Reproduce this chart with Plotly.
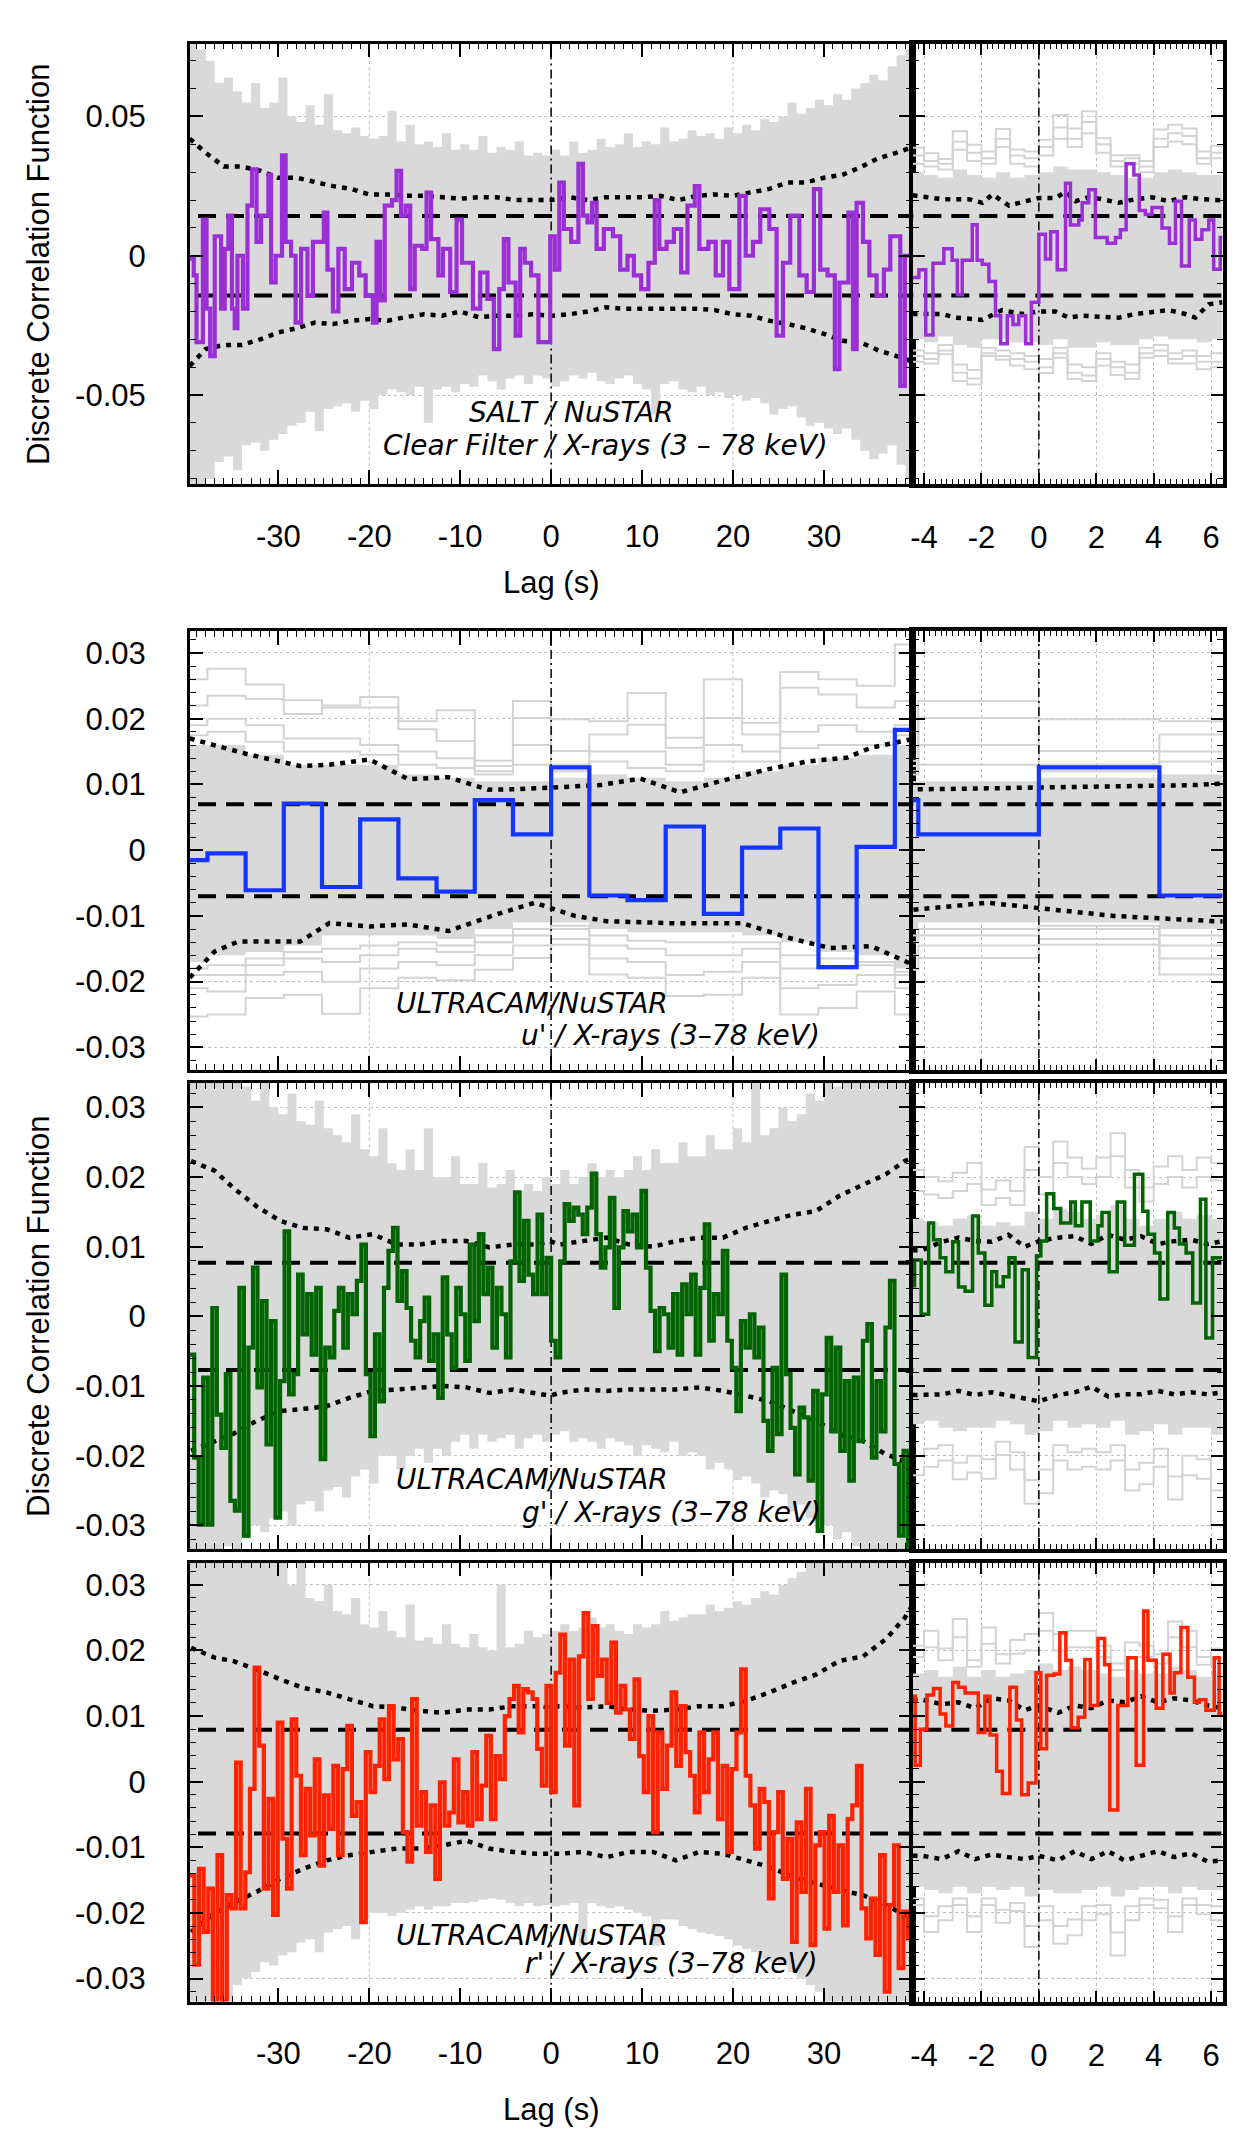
import plotly.graph_objects as go

W, H = 1250, 2137

PURPLE = '#9a2fd6'
BLUE = '#1436ff'
GREEN = '#006400'
RED = '#ff2200'
GREY = '#d9d9d9'
GREY_LINE = '#d3d3d3'
GRID = '#bdbdbd'

DASHED = '18px,10px'
DOTTED = '5px,6px'
DASHDOT = '9px,4px,2px,4px'

# ---------------- tick labels ----------------
X_MAIN_TICKS = [-30, -20, -10, 0, 10, 20, 30]
X_MAIN_TEXT = ['-30', '-20', '-10', '0', '10', '20', '30']
X_INSET_TICKS = [-4, -2, 0, 2, 4, 6]
X_INSET_TEXT = ['-4', '-2', '0', '2', '4', '6']
Y1_TICKS = [-0.05, 0, 0.05]
Y1_TEXT = ['-0.05', '0', '0.05']
Y2_TICKS = [-0.03, -0.02, -0.01, 0, 0.01, 0.02, 0.03]
Y2_TEXT = ['-0.03', '-0.02', '-0.01', '0', '0.01', '0.02', '0.03']

# ---------------- shared lag grids ----------------
ENV_LAG = list(range(-40, 41))
INSET_EDGES = [-4.4, -4.0, -3.5, -3.0, -2.5, -2.0, -1.5, -1.0, -0.5, 0.0, 0.5,
               1.0, 1.5, 2.0, 2.5, 3.0, 3.5, 4.0, 4.5, 5.0, 5.5, 6.0, 6.4]
DOT_LAG = [-39.6, -37.0, -35.0, -32.4, -29.8, -27.3, -24.7, -22.2, -19.6, -17.0,
           -14.5, -11.9, -9.3, -6.8, -4.2, -1.6, -0.1, 0.9, 3.5, 6.1, 8.6, 11.2,
           13.7, 16.3, 18.9, 21.4, 24.0, 26.6, 29.1, 31.7, 34.3, 36.8, 38.9, 39.9]
IN_DOT_LAG = [-4.4, -4.07, -3.38, -2.8, -2.22, -1.64, -1.06, -0.49, 0, 0.67, 1.25,
              1.83, 2.41, 2.99, 3.56, 4.14, 4.72, 5.3, 5.88, 6.4]

# ================= panel 1 : SALT / NuSTAR =================
P1_LAG = [-39.75, -39.3, -39.0, -38.3, -37.9, -37.5, -37.0, -36.3, -35.9, -35.5,
          -35.1, -34.8, -34.5, -33.9, -33.4, -32.9, -32.4, -31.9, -31.1, -30.8,
          -30.3, -29.6, -29.2, -28.6, -28.1, -27.5, -26.8, -26.2, -25.5, -25.0,
          -24.6, -24.0, -23.4, -22.7, -21.9, -21.1, -20.4, -19.6, -19.2, -18.8,
          -18.3, -17.5, -17.0, -16.5, -16.0, -15.5, -15.0, -14.2, -13.7, -13.2,
          -12.4, -11.9, -11.1, -10.4, -9.8, -9.3, -8.6, -7.8, -7.0, -6.3,
          -5.7, -5.2, -4.7, -3.9, -3.4, -2.9, -2.2, -1.4, -0.6, -0.1,
          0.4, 0.9, 1.4, 2.2, 3.0, 3.5, 4.0, 4.5, 5.0, 5.8,
          6.8, 7.6, 8.4, 9.1, 9.9, 10.7, 11.4, 11.9, 12.7, 13.5,
          14.3, 15.0, 15.8, 16.3, 17.3, 18.1, 18.9, 19.6, 20.7, 21.4,
          22.2, 23.0, 24.0, 24.8, 25.5, 26.3, 27.3, 28.1, 28.9, 29.6,
          30.4, 31.2, 31.7, 32.7, 33.2, 33.6, 34.3, 35.0, 35.8, 36.6,
          37.3, 38.4, 38.9, 39.6, 39.75]
P1_VAL = [-0.001, -0.007, -0.031, 0.013, -0.019, -0.036, 0.007, -0.019, 0.0025, 0.0144,
          -0.019, -0.026, 0.0, -0.019, 0.018, 0.031, 0.005, 0.0144, 0.029, -0.0096,
          0.0, 0.036, 0.005, 0.0, -0.024, 0.0025, -0.0144, 0.005, 0.005, 0.0155,
          -0.005, -0.020, 0.0025, -0.012, -0.0025, -0.007, -0.0144, -0.024, 0.005, -0.016,
          0.018, 0.020, 0.0305, 0.0144, 0.018, -0.012, 0.0036, 0.0025, 0.0227, 0.006,
          -0.007, 0.0025, -0.013, 0.013, -0.0025, -0.0025, -0.019, -0.006, -0.0155, -0.0335,
          -0.012, 0.006, -0.0096, -0.0287, 0.0025, -0.0025, -0.007, -0.031, -0.031, 0.007,
          -0.005, 0.0263, 0.0096, 0.005, 0.033, 0.0144, 0.012, 0.019, 0.0025, 0.0096,
          0.007, -0.005, 0.0, -0.007, -0.012, -0.0025, 0.020, 0.0025, 0.005, 0.0096,
          -0.006, 0.018, 0.025, 0.0025, 0.005, -0.007, 0.005, -0.012, 0.0215, 0.0,
          0.005, 0.0167, 0.0096, -0.0287, -0.0025, 0.0144, -0.007, -0.013, 0.0239, -0.005,
          -0.007, -0.0407, -0.0096, 0.0155, -0.0335, 0.019, 0.005, -0.007, -0.0144, -0.005,
          0.007, -0.0467, 0.0, -0.0096, -0.0096]
P1_ENV_UP = [0.076, 0.074, 0.070, 0.062, 0.064, 0.059, 0.055, 0.062, 0.053, 0.055,
             0.064, 0.050, 0.048, 0.054, 0.047, 0.058, 0.045, 0.044, 0.046, 0.043,
             0.042, 0.043, 0.052, 0.041, 0.047, 0.040, 0.041, 0.039, 0.044, 0.038,
             0.040, 0.038, 0.043, 0.037, 0.039, 0.038, 0.041, 0.036, 0.037, 0.036,
             0.038,
             0.036, 0.041, 0.037, 0.038, 0.042, 0.039, 0.040, 0.044, 0.039, 0.041,
             0.040, 0.046, 0.041, 0.042, 0.045, 0.043, 0.044, 0.042, 0.046, 0.044,
             0.047, 0.045, 0.049, 0.048, 0.050, 0.055, 0.051, 0.053, 0.056, 0.054,
             0.058, 0.056, 0.060, 0.062, 0.065, 0.063, 0.068, 0.072, 0.074, 0.076]
P1_ENV_LO = [-0.082, -0.082, -0.080, -0.074, -0.072, -0.077, -0.068, -0.067, -0.070, -0.066,
             -0.064, -0.061, -0.060, -0.056, -0.063, -0.055, -0.054, -0.053, -0.056, -0.052,
             -0.055, -0.050, -0.048, -0.049, -0.050, -0.047, -0.060, -0.048, -0.047, -0.049,
             -0.046, -0.047, -0.043, -0.045, -0.048, -0.044, -0.043, -0.046, -0.043, -0.044,
             -0.047,
             -0.045, -0.043, -0.044, -0.042, -0.045, -0.046, -0.044, -0.043, -0.046, -0.048,
             -0.057, -0.046, -0.045, -0.048, -0.049, -0.047, -0.050, -0.049, -0.051, -0.050,
             -0.052, -0.051, -0.053, -0.057, -0.055, -0.054, -0.058, -0.061, -0.060, -0.062,
             -0.064, -0.062, -0.066, -0.070, -0.073, -0.071, -0.068, -0.075, -0.080, -0.082]
P1_DOT_LAG = [-39.75] + list(range(-38, 39, 2)) + [39.75]
P1_DOT_UP = [0.042, 0.037, 0.032, 0.032, 0.0305, 0.028, 0.028, 0.0263, 0.025, 0.024,
             0.022, 0.022, 0.0215, 0.0215, 0.021, 0.0205, 0.021, 0.021, 0.020, 0.020,
             0.020, 0.021, 0.020, 0.021, 0.021, 0.021, 0.0215, 0.020, 0.0215, 0.022,
             0.0215, 0.0227, 0.024, 0.0263, 0.0263, 0.028, 0.029, 0.0317, 0.035, 0.037, 0.039]
P1_DOT_LO = [-0.0395, -0.0335, -0.032, -0.032, -0.030, -0.0275, -0.026, -0.024, -0.0245, -0.0233,
             -0.0227, -0.0233, -0.022, -0.021, -0.0215, -0.020, -0.022, -0.0215, -0.0215, -0.021,
             -0.0215, -0.021, -0.020, -0.0185, -0.019, -0.019, -0.019, -0.019, -0.019, -0.0195,
             -0.021, -0.0215, -0.0233, -0.0245, -0.026, -0.028, -0.0305, -0.031, -0.034, -0.036, -0.038]
P1_SIG = 0.0143
P1_IN_LAG = [-4.4, -4.18, -3.94, -3.69, -3.31, -3.02, -2.84, -2.67, -2.32, -2.15,
             -1.97, -1.74, -1.51, -1.33, -1.10, -0.90, -0.70, -0.46, -0.26, 0.0,
             0.23, 0.41, 0.64, 0.93, 1.10, 1.39, 1.51, 1.74, 1.97, 2.38,
             2.67, 2.84, 3.04, 3.31, 3.50, 3.71, 3.94, 4.29, 4.55, 4.76,
             4.97, 5.24, 5.45, 5.68, 5.92, 6.09, 6.32, 6.4]
P1_IN_VAL = [-0.0078, -0.005, -0.0284, -0.0027, 0.0025, -0.0016, -0.014, -0.0016, 0.0111, -0.0016,
             -0.003, -0.0092, -0.0215, -0.0316, -0.0215, -0.0247, -0.0215, -0.0316, -0.0167, 0.0077,
             -0.0012, 0.0086, -0.005, 0.026, 0.011, 0.0128, 0.019, 0.0237, 0.0066, 0.0045,
             0.0066, 0.0093, 0.033, 0.029, 0.0162, 0.0148, 0.0173, 0.010, 0.0045, 0.0196,
             -0.0037, 0.0128, 0.0059, 0.0093, 0.0128, -0.0048, 0.0066, 0.0066]
P1_IN_CORE_UP = [0.030, 0.029, 0.028, 0.031, 0.029, 0.028, 0.030, 0.028, 0.029, 0.030, 0.032,
                 0.031, 0.031, 0.030, 0.029, 0.028, 0.028, 0.030, 0.031, 0.030, 0.029, 0.029]
P1_IN_CORE_LO = [-0.030, -0.031, -0.029, -0.032, -0.033, -0.030, -0.030, -0.031, -0.031, -0.032, -0.030,
                 -0.033, -0.033, -0.031, -0.032, -0.032, -0.030, -0.029, -0.030, -0.030, -0.031, -0.030]
P1_IN_UP1 = [0.0388, 0.0368, 0.0347, 0.0447, 0.0398, 0.0374, 0.0455, 0.0381, 0.0374, 0.0416, 0.0505,
             0.0457, 0.0519, 0.0422, 0.0361, 0.0361, 0.034, 0.0453, 0.047, 0.0457, 0.0374, 0.0395]
P1_IN_UP2 = [0.033, 0.032, 0.031, 0.038, 0.034, 0.033, 0.039, 0.033, 0.032, 0.036, 0.042,
             0.039, 0.044, 0.037, 0.032, 0.033, 0.030, 0.039, 0.041, 0.040, 0.033, 0.035]
P1_IN_UP3 = [0.036, 0.034, 0.033, 0.041, 0.037, 0.035, 0.042, 0.036, 0.035, 0.039, 0.046,
             0.042, 0.048, 0.040, 0.034, 0.035, 0.032, 0.042, 0.044, 0.043, 0.035, 0.037]
P1_IN_LO1 = [-0.038, -0.0387, -0.0353, -0.0449, -0.0462, -0.036, -0.0373, -0.0394, -0.0407, -0.0421, -0.0366,
             -0.0442, -0.0449, -0.0394, -0.0428, -0.0442, -0.0366, -0.036, -0.0387, -0.0387, -0.0407, -0.040]
P1_IN_LO2 = [-0.034, -0.035, -0.032, -0.039, -0.041, -0.033, -0.034, -0.035, -0.036, -0.037, -0.033,
             -0.039, -0.040, -0.035, -0.038, -0.039, -0.033, -0.032, -0.035, -0.034, -0.036, -0.035]
P1_IN_LO3 = [-0.036, -0.037, -0.034, -0.042, -0.044, -0.035, -0.036, -0.037, -0.038, -0.040, -0.035,
             -0.042, -0.043, -0.037, -0.040, -0.042, -0.035, -0.034, -0.037, -0.036, -0.038, -0.038]
P1_IN_DOT_UP_LAG = [-4.4, -3.36, -2.44, -1.97, -1.62, -1.04, -0.46, 0, 0.58, 0.93,
                    1.28, 1.74, 2.2, 2.78, 3.36, 3.94, 4.52, 5.1, 5.68, 6.4]
P1_IN_DOT_UP = [0.0217, 0.0203, 0.0203, 0.019, 0.022, 0.018, 0.0196, 0.0207, 0.0207, 0.023,
                0.0196, 0.021, 0.0203, 0.019, 0.0203, 0.021, 0.0196, 0.021, 0.0203, 0.0199]
P1_IN_DOT_LO_LAG = [-4.4, -3.36, -2.9, -1.97, -1.28, -0.58, 0, 0.58, 1.04, 1.51,
                    2.2, 2.78, 3.36, 3.94, 4.52, 5.1, 5.45, 5.92, 6.4]
P1_IN_DOT_LO = [-0.0209, -0.0209, -0.0222, -0.023, -0.0195, -0.0209, -0.020, -0.020, -0.0222, -0.0215,
                -0.0219, -0.0222, -0.0209, -0.0202, -0.0195, -0.0209, -0.0222, -0.0174, -0.0167]

# ================= panel 2 : ULTRACAM u' =================
P2_EDGES = [-39.75, -37.8, -33.6, -29.4, -25.2, -21.0, -16.8, -12.6, -8.4, -4.2, 0.0,
            4.2, 8.4, 12.6, 16.8, 21.0, 25.2, 29.4, 33.6, 37.8, 39.75]
P2_VAL = [-0.0015, -0.0005, -0.0061, 0.0071, -0.0056, 0.0047, -0.0043, -0.0063, 0.0076, 0.0024,
          0.0126, -0.0069, -0.0076, 0.0036, -0.0097, 0.0004, 0.0033, -0.0178, 0.0005, 0.0183]
P2_CORE_UP = [0.016, 0.016, 0.0145, 0.013, 0.013, 0.013, 0.0115, 0.011, 0.0105, 0.0105,
              0.011, 0.0115, 0.011, 0.0105, 0.011, 0.012, 0.013, 0.014, 0.0145, 0.016]
P2_CORE_LO = [-0.017, -0.016, -0.0155, -0.0145, -0.013, -0.013, -0.013, -0.0135, -0.012, -0.011,
              -0.011, -0.012, -0.0125, -0.0125, -0.0125, -0.013, -0.014, -0.0155, -0.016, -0.018]
P2_UP1 = [0.026, 0.0276, 0.0252, 0.0228, 0.022, 0.0233, 0.0196, 0.0213, 0.0136, 0.0227,
          0.0199, 0.0196, 0.0239, 0.0171, 0.026, 0.0194, 0.0271, 0.026, 0.025, 0.0313]
P2_UP2 = [0.022, 0.0235, 0.023, 0.0207, 0.0217, 0.0217, 0.0184, 0.0166, 0.0128, 0.0201,
          0.0151, 0.0176, 0.0191, 0.0156, 0.0201, 0.0176, 0.0247, 0.0237, 0.0217, 0.0227]
P2_UP3 = [0.019, 0.020, 0.019, 0.017, 0.017, 0.016, 0.015, 0.014, 0.012, 0.016,
          0.013, 0.015, 0.015, 0.013, 0.016, 0.015, 0.018, 0.019, 0.018, 0.019]
P2_UP4 = [0.0175, 0.018, 0.0165, 0.015, 0.015, 0.0145, 0.013, 0.0125, 0.0115, 0.013,
          0.012, 0.0135, 0.0125, 0.012, 0.0135, 0.0135, 0.0155, 0.016, 0.016, 0.0175]
P2_LO1 = [-0.0253, -0.025, -0.0225, -0.022, -0.0249, -0.021, -0.0194, -0.0198, -0.0182, -0.0164,
          -0.0144, -0.0189, -0.0194, -0.0222, -0.022, -0.0194, -0.025, -0.024, -0.0215, -0.025]
P2_LO2 = [-0.021, -0.0215, -0.019, -0.0185, -0.020, -0.018, -0.017, -0.0175, -0.016, -0.0145,
          -0.0135, -0.0165, -0.017, -0.019, -0.0185, -0.017, -0.021, -0.0205, -0.019, -0.021]
P2_LO3 = [-0.019, -0.019, -0.0175, -0.0165, -0.017, -0.016, -0.015, -0.0155, -0.014, -0.013,
          -0.012, -0.0145, -0.015, -0.016, -0.016, -0.015, -0.018, -0.018, -0.0175, -0.019]
P2_LO4 = [-0.018, -0.0175, -0.0165, -0.0155, -0.015, -0.0145, -0.014, -0.0145, -0.013, -0.012,
          -0.0115, -0.013, -0.0138, -0.014, -0.014, -0.014, -0.016, -0.0165, -0.017, -0.0185]
P2_DOT_UP_LAG = [-39.75, -33.4, -27.6, -24.4, -20.0, -15.7, -11.3, -6.9, -3.4, 1.0,
                 5.4, 9.8, 14.2, 18.6, 23.8, 28.2, 32.6, 35.2, 39.75]
P2_DOT_UP = [0.0170, 0.0146, 0.0128, 0.0130, 0.0138, 0.0108, 0.0111, 0.0092, 0.0093, 0.0096,
             0.0099, 0.0109, 0.0088, 0.0105, 0.0123, 0.0135, 0.0141, 0.0156, 0.0169]
P2_DOT_LO_LAG = [-39.75, -37.0, -34.4, -27.6, -24.4, -20.0, -15.7, -11.3, -6.1, -1.8,
                 2.6, 6.1, 13.1, 21.0, 26.3, 30.7, 35.2, 39.75]
P2_DOT_LO = [-0.0194, -0.0154, -0.0139, -0.0139, -0.0111, -0.0116, -0.0113, -0.0123, -0.0098, -0.0080,
             -0.0100, -0.0108, -0.0111, -0.0111, -0.0134, -0.0149, -0.0146, -0.0174]
P2_SIG = 0.0070

# ================= panel 3 : ULTRACAM g' =================
P3_VAL = [-0.0055, -0.0203, -0.0299, -0.0088, -0.0299, 0.0012, -0.0141, -0.0189, -0.0083, -0.0265,
          -0.0279, 0.0041, -0.0315, -0.0045, 0.0070, -0.0102, 0.0022, -0.0184, -0.0007, -0.0289,
          -0.0093, 0.0122, -0.0112, -0.0083, 0.0060, -0.0026, 0.0032, -0.0055, 0.0041, -0.0205,
          -0.0045, -0.0059, 0.0008, 0.0041, -0.0045, 0.0032, 0.0003, 0.0051, 0.0103, -0.0083,
          -0.0172, -0.0026, -0.0122, 0.0041, 0.0094, 0.0127, 0.0022, 0.0065, 0.0012, -0.0035,
          -0.0059, -0.0007, 0.0027, -0.0064, -0.0026, -0.0117, 0.0056, -0.0026, -0.0074, 0.0041,
          0.0003, -0.0064, 0.0103, -0.0007, 0.0118, 0.0032, 0.0070, -0.0045, 0.0041, 0.0003,
          -0.0059, 0.0079, 0.0178, 0.0051, 0.0137, 0.0060, 0.0032, 0.0146, 0.0032, 0.0084,
          -0.0035, -0.0059, 0.0079, 0.0161, 0.0137, 0.0156, 0.0146, 0.0118, 0.0156, 0.0205,
          0.0118, 0.0070, 0.0099, 0.0170, 0.0012, 0.0099, 0.0151, 0.0122, 0.0146, 0.0099,
          0.0180, 0.0070, 0.0008, -0.0050, 0.0012, 0.0003, -0.0045, 0.0032, -0.0055, 0.0046,
          0.0003, 0.0060, -0.0055, 0.0041, 0.0132, -0.0035, 0.0032, 0.0003, 0.0094, -0.0035,
          -0.0074, -0.0136, -0.0007, -0.0045, 0.0003, -0.0059, -0.0016, -0.0150, -0.0193, -0.0074,
          -0.0169, 0.0060, -0.0083, -0.0160, -0.0227, -0.0131, -0.0145, -0.0236, -0.0107, -0.0308,
          -0.0112, -0.0031, -0.0165, -0.0045, -0.0193, -0.0093, -0.0236, -0.0088, -0.0179, -0.0035,
          -0.0011, -0.0203, -0.0093, -0.0165, -0.0016, 0.0051, -0.0212, -0.0315, -0.0193, -0.0332,
          -0.0193]
P3_ENV_UP = [0.034, 0.034, 0.034, 0.034, 0.034, 0.034, 0.033, 0.031, 0.034, 0.030,
             0.029, 0.032, 0.028, 0.0275, 0.031, 0.027, 0.026, 0.025, 0.029, 0.024,
             0.023, 0.027, 0.022, 0.021, 0.024, 0.021, 0.027, 0.020, 0.020, 0.023,
             0.019, 0.019, 0.022, 0.0185, 0.019, 0.021, 0.018, 0.019, 0.018, 0.020,
             0.019,
             0.021, 0.019, 0.020, 0.022, 0.020, 0.021, 0.020, 0.021, 0.023, 0.021,
             0.024, 0.022, 0.022, 0.025, 0.023, 0.023, 0.026, 0.024, 0.024, 0.027,
             0.025, 0.034, 0.026, 0.027, 0.030, 0.028, 0.029, 0.032, 0.031, 0.034,
             0.033, 0.034, 0.034, 0.034, 0.034, 0.034, 0.034, 0.034, 0.034, 0.034]
P3_ENV_LO = [-0.034, -0.034, -0.034, -0.034, -0.033, -0.034, -0.032, -0.030, -0.031, -0.029,
             -0.028, -0.030, -0.027, -0.0265, -0.028, -0.025, -0.0245, -0.026, -0.023, -0.022,
             -0.024, -0.020, -0.020, -0.022, -0.020, -0.019, -0.021, -0.019, -0.020, -0.018,
             -0.017, -0.019, -0.017, -0.018, -0.0175, -0.017, -0.019, -0.0175, -0.017, -0.018,
             -0.017,
             -0.0165, -0.018, -0.0175, -0.018, -0.019, -0.0175, -0.018, -0.0185, -0.020, -0.0185,
             -0.019, -0.0195, -0.018, -0.020, -0.0195, -0.020, -0.022, -0.021, -0.022, -0.0235,
             -0.023, -0.024, -0.026, -0.025, -0.0255, -0.028, -0.027, -0.029, -0.030, -0.030,
             -0.032, -0.031, -0.033, -0.034, -0.034, -0.034, -0.034, -0.034, -0.034, -0.034]
P3_DOT_UP = [0.0223, 0.0209, 0.0185, 0.0158, 0.0137, 0.0127, 0.0125, 0.0113, 0.0118, 0.0103,
             0.0103, 0.0108, 0.0108, 0.0099, 0.0103, 0.0103, 0.0108, 0.0103, 0.0108, 0.0113,
             0.0103, 0.0100, 0.0108, 0.0113, 0.0113, 0.0127, 0.0137, 0.0146, 0.0151, 0.0173,
             0.0189, 0.0204, 0.0223, 0.0228]
P3_DOT_LO = [-0.0193, -0.0179, -0.0169, -0.0150, -0.0136, -0.0133, -0.0129, -0.0117, -0.0107, -0.0105,
             -0.0102, -0.0100, -0.0102, -0.0110, -0.0105, -0.0110, -0.0114, -0.0110, -0.0105, -0.0107,
             -0.0105, -0.0105, -0.0105, -0.0102, -0.0107, -0.0114, -0.0122, -0.0136, -0.0150, -0.0169,
             -0.0179, -0.0198, -0.0208, -0.0210]
P3_SIG = 0.0077
P3_IN_LAG = [-4.4, -4.33, -4.10, -3.84, -3.67, -3.44, -3.24, -3.00, -2.80, -2.57,
             -2.31, -2.11, -1.88, -1.64, -1.47, -1.24, -1.04, -0.83, -0.58, -0.37,
             -0.08, 0.07, 0.27, 0.52, 0.76, 1.11, 1.27, 1.50, 1.79, 2.06,
             2.20, 2.45, 2.73, 2.99, 3.33, 3.62, 3.80, 4.03, 4.22, 4.49,
             4.72, 4.90, 5.13, 5.36, 5.63, 5.82, 6.05, 6.4]
P3_IN_VAL = [0.0044, 0.0081, 0.0003, 0.0134, 0.011, 0.0084, 0.0064, 0.0107, 0.0042, 0.0036,
             0.0144, 0.0091, 0.0016, 0.0064, 0.0043, 0.0057, 0.0084, -0.0037, 0.0067, -0.0059,
             0.0087, 0.0108, 0.0176, 0.0155, 0.0134, 0.0164, 0.013, 0.0164, 0.0108, 0.013,
             0.0149, 0.0064, 0.0164, 0.0102, 0.0204, 0.0151, 0.0118, 0.0091, 0.0025, 0.0149,
             0.0127, 0.0104, 0.0091, 0.0019, 0.0168, -0.0031, 0.0084, 0.0084]
P3_IN_CORE_UP = [0.014, 0.0135, 0.013, 0.014, 0.0145, 0.013, 0.0135, 0.013, 0.015, 0.014, 0.0155,
                 0.015, 0.014, 0.0145, 0.016, 0.014, 0.013, 0.014, 0.015, 0.014, 0.0145, 0.014]
P3_IN_CORE_LO = [-0.0155, -0.015, -0.016, -0.0165, -0.016, -0.016, -0.015, -0.0155, -0.017, -0.0165, -0.015,
                 -0.016, -0.0155, -0.016, -0.015, -0.017, -0.0165, -0.0155, -0.017, -0.016, -0.016, -0.017]
P3_IN_UP1 = [0.021, 0.020, 0.0194, 0.0206, 0.022, 0.0182, 0.0195, 0.018, 0.0243, 0.020, 0.0251,
             0.0228, 0.0212, 0.0228, 0.0263, 0.021, 0.0185, 0.0215, 0.023, 0.021, 0.0228, 0.022]
P3_IN_UP2 = [0.018, 0.0175, 0.017, 0.018, 0.019, 0.016, 0.017, 0.016, 0.021, 0.0175, 0.022,
             0.020, 0.019, 0.020, 0.023, 0.0185, 0.0165, 0.019, 0.020, 0.0185, 0.020, 0.0195]
P3_IN_LO1 = [-0.0228, -0.0216, -0.0207, -0.0234, -0.0224, -0.0233, -0.0199, -0.022, -0.0269, -0.0254, -0.0207,
             -0.022, -0.0216, -0.022, -0.0207, -0.025, -0.0241, -0.0216, -0.0263, -0.0228, -0.0233, -0.030]
P3_IN_LO2 = [-0.020, -0.019, -0.0185, -0.021, -0.020, -0.0205, -0.018, -0.0195, -0.0235, -0.022, -0.0185,
             -0.0195, -0.019, -0.0195, -0.0185, -0.022, -0.021, -0.019, -0.023, -0.020, -0.0205, -0.025]
P3_IN_DOT_UP = [0.0095, 0.0095, 0.0107, 0.0113, 0.0108, 0.0107, 0.0117, 0.0100, 0.0108, 0.0113,
                0.0115, 0.0104, 0.0117, 0.0110, 0.0115, 0.0104, 0.0108, 0.0110, 0.0104, 0.0108]
P3_IN_DOT_LO = [-0.0113, -0.0113, -0.0112, -0.0107, -0.0113, -0.0109, -0.0113, -0.0118, -0.0122, -0.0113,
                -0.0109, -0.0101, -0.0115, -0.0112, -0.0112, -0.0107, -0.0112, -0.0109, -0.0112, -0.0109]

# ================= panel 4 : ULTRACAM r' =================
P4_VAL = [-0.0143, -0.0279, -0.0133, -0.0229, -0.0163, -0.0335, -0.0112, -0.0335, -0.0173, -0.0193,
          0.0029, -0.0193, -0.0138, -0.0011, 0.0174, 0.0055, -0.0163, -0.0026, -0.0203, 0.0090,
          -0.0087, -0.0163, 0.0095, 0.0009, -0.0112, -0.0011, -0.0082, 0.0034, -0.0128, -0.0021,
          -0.0072, 0.0024, -0.0112, 0.0019, 0.0085, -0.0052, -0.0031, -0.0214, 0.0045, -0.0016,
          0.0024, 0.0095, 0.0004, 0.0115, 0.0034, 0.0065, -0.0077, -0.0122, 0.0126, -0.0067,
          -0.0016, -0.0107, -0.0036, -0.0148, -0.0001, -0.0067, -0.0047, 0.0034, -0.0062, -0.0016,
          -0.0067, 0.0045, -0.0057, -0.0006, 0.0070, -0.0057, 0.0039, 0.0004, 0.0100, 0.0126,
          0.0146, 0.0075, 0.0141, 0.0136, 0.0126, 0.0050, -0.0006, 0.0146, -0.0016, 0.0166,
          0.0224, 0.0055, 0.0186, -0.0036, 0.0191, 0.0257, 0.0126, 0.0237, 0.0161, 0.0186,
          0.0120, 0.0212, 0.0105, 0.0146, 0.0110, 0.0065, 0.0156, 0.0039, -0.0016, 0.0100,
          -0.0077, 0.0075, -0.0011, 0.0055, 0.0136, 0.0024, 0.0115, 0.0045, 0.0009, -0.0047,
          0.0075, -0.0016, 0.0034, 0.0075, -0.0057, 0.0024, -0.0107, 0.0019, 0.0075, 0.0171,
          0.0009, -0.0036, -0.0102, -0.0011, -0.0031, -0.0178, -0.0077, -0.0016, -0.0148, -0.0087,
          -0.0244, -0.0062, -0.0168, -0.0011, -0.0249, -0.0097, -0.0077, -0.0224, -0.0052, -0.0168,
          -0.0097, -0.0219, -0.0057, -0.0036, 0.0024, -0.0193, -0.0239, -0.0178, -0.0264, -0.0112,
          -0.0320, -0.0188, -0.0097, -0.0284, -0.0198, -0.0239, -0.0330]
P4_ENV_UP = [0.034, 0.034, 0.034, 0.034, 0.034, 0.034, 0.034, 0.034, 0.034, 0.034, 0.034,
             0.030, 0.034, 0.028, 0.0275, 0.030, 0.026, 0.0255, 0.028, 0.024, 0.0235,
             0.026, 0.023, 0.022, 0.027, 0.0215, 0.022, 0.021, 0.024, 0.021, 0.0205,
             0.0225, 0.0205, 0.020, 0.030, 0.0205, 0.021, 0.023, 0.022, 0.0225, 0.023,
             0.024, 0.023, 0.0235, 0.025, 0.0235, 0.024, 0.023, 0.0225, 0.024, 0.0235,
             0.024, 0.026, 0.0245, 0.025, 0.0255, 0.0255, 0.027, 0.026, 0.0265, 0.0275,
             0.027, 0.028, 0.029, 0.0285, 0.030, 0.031, 0.032, 0.034,
             0.034, 0.034, 0.034, 0.034, 0.034, 0.034, 0.034, 0.034, 0.034, 0.034, 0.034, 0.034]
P4_ENV_LO = [-0.034, -0.034, -0.034, -0.034, -0.034,
             -0.031, -0.030, -0.029, -0.0275, -0.028, -0.0265, -0.026, -0.0245, -0.024, -0.026,
             -0.023, -0.0225, -0.022, -0.024, -0.021, -0.020, -0.020, -0.0205, -0.020, -0.0195,
             -0.019, -0.0195, -0.019, -0.019, -0.0185, -0.0185, -0.0183, -0.018, -0.0178, -0.018,
             -0.0185, -0.019, -0.0185, -0.019, -0.0188, -0.019, -0.0188, -0.0185, -0.025, -0.0185,
             -0.019, -0.0193, -0.019, -0.0195, -0.020, -0.0205, -0.025, -0.021, -0.021, -0.022,
             -0.0225, -0.023, -0.0232, -0.0235, -0.024, -0.025, -0.0255, -0.026, -0.027, -0.0275,
             -0.028, -0.029, -0.030, -0.031, -0.032,
             -0.034, -0.034, -0.034, -0.034, -0.034, -0.034, -0.034, -0.034, -0.034, -0.034, -0.034]
P4_DOT_UP = [0.0204, 0.0189, 0.0184, 0.0171, 0.0156, 0.0143, 0.0136, 0.0126, 0.0115, 0.0113,
             0.0108, 0.0105, 0.0110, 0.0110, 0.0115, 0.0115, 0.0113, 0.0115, 0.0113, 0.0115,
             0.0110, 0.0108, 0.0110, 0.0115, 0.0115, 0.0123, 0.0136, 0.0151, 0.0163, 0.0184,
             0.0191, 0.0217, 0.0250, 0.0272]
P4_DOT_LO = [-0.0229, -0.0200, -0.0185, -0.0168, -0.0148, -0.0133, -0.0120, -0.0112, -0.0107, -0.0102,
             -0.0102, -0.0097, -0.0090, -0.0102, -0.0107, -0.0110, -0.0110, -0.0110, -0.0107, -0.0115,
             -0.0107, -0.0107, -0.0120, -0.0107, -0.0110, -0.0120, -0.0130, -0.0145, -0.0155, -0.0165,
             -0.0173, -0.0188, -0.0203, -0.0210]
P4_SIG = 0.0079
P4_IN_LAG = [-4.4, -4.31, -4.13, -3.90, -3.67, -3.44, -3.24, -3.00, -2.80, -2.57,
             -2.11, -1.88, -1.70, -1.47, -1.27, -1.01, -0.78, -0.60, -0.37, -0.10,
             0.07, 0.27, 0.53, 0.73, 0.94, 1.13, 1.37, 1.60, 1.79, 2.06,
             2.29, 2.47, 2.75, 3.10, 3.39, 3.65, 3.80, 4.09, 4.32, 4.57,
             4.72, 4.95, 5.19, 5.42, 5.59, 5.82, 6.11, 6.28, 6.4]
P4_IN_VAL = [0.013, 0.0025, 0.008, 0.0132, 0.0142, 0.0103, 0.0085, 0.0151, 0.0144, 0.0135,
             0.0075, 0.013, 0.0071, 0.0016, -0.0018, 0.0144, 0.0094, -0.002, -0.0002, 0.0166,
             0.005, 0.0162, 0.0164, 0.0227, 0.0185, 0.0082, 0.0098, 0.0186, 0.0116, 0.0218,
             0.0178, -0.0043, 0.0116, 0.0189, 0.0025, 0.026, 0.0185, 0.0112, 0.0194, 0.0135,
             0.0166, 0.0235, 0.0159, 0.0121, 0.0125, 0.0109, 0.0189, 0.0103, 0.0103]
P4_IN_CORE_UP = [0.0165, 0.017, 0.016, 0.0175, 0.016, 0.017, 0.016, 0.0165, 0.017, 0.018, 0.017,
                 0.0175, 0.017, 0.0165, 0.016, 0.017, 0.0165, 0.0165, 0.0175, 0.017, 0.016, 0.0165]
P4_IN_CORE_LO = [-0.016, -0.0165, -0.017, -0.016, -0.017, -0.016, -0.0165, -0.016, -0.0175, -0.0165, -0.017,
                 -0.017, -0.0165, -0.016, -0.0175, -0.0165, -0.016, -0.016, -0.017, -0.016, -0.0165, -0.0165]
P4_IN_UP1 = [0.0207, 0.023, 0.0203, 0.0248, 0.0185, 0.0235, 0.0194, 0.0216, 0.0225, 0.0257, 0.0225,
             0.023, 0.023, 0.0207, 0.018, 0.0212, 0.0207, 0.0194, 0.0244, 0.023, 0.019, 0.0203]
P4_IN_UP2 = [0.019, 0.0205, 0.0185, 0.022, 0.0175, 0.021, 0.018, 0.0195, 0.020, 0.023, 0.020,
             0.0205, 0.0205, 0.019, 0.017, 0.019, 0.019, 0.018, 0.022, 0.0205, 0.0178, 0.0188]
P4_IN_LO1 = [-0.0188, -0.0229, -0.0211, -0.0188, -0.0229, -0.0188, -0.0215, -0.0197, -0.0252, -0.0211, -0.0247,
             -0.0234, -0.0211, -0.0202, -0.0265, -0.0211, -0.0188, -0.0193, -0.0229, -0.0188, -0.0202, -0.0211]
P4_IN_LO2 = [-0.0178, -0.0205, -0.019, -0.0178, -0.0205, -0.0178, -0.0195, -0.0185, -0.022, -0.019, -0.022,
             -0.021, -0.019, -0.0188, -0.023, -0.019, -0.0178, -0.018, -0.0205, -0.0178, -0.0188, -0.019]
P4_IN_DOT_UP = [0.0125, 0.0125, 0.0118, 0.0121, 0.0112, 0.0127, 0.0124, 0.0109, 0.0116, 0.0105,
                0.0116, 0.0112, 0.0124, 0.0121, 0.0130, 0.0121, 0.0127, 0.0124, 0.0116, 0.0112]
P4_IN_DOT_LO = [-0.0113, -0.0113, -0.0118, -0.0106, -0.0118, -0.0111, -0.0115, -0.0118, -0.0113, -0.0120,
                -0.0106, -0.0118, -0.0106, -0.0120, -0.0113, -0.0106, -0.0115, -0.0109, -0.0122, -0.0120]

LABEL_TOP = ['SALT / NuSTAR', 'ULTRACAM/NuSTAR', 'ULTRACAM/NuSTAR', 'ULTRACAM/NuSTAR']
LABEL_BOT = ['Clear Filter / X-rays (3 \u2013 78 keV)', "u' / X-rays (3\u201378 keV)",
             "g' / X-rays (3\u201378 keV)", "r' / X-rays (3\u201378 keV)"]


def spread(vals):
    # readings were taken at equal steps across the whole lag window
    n = len(vals)
    return [-39.75 + 79.5 * i / (n - 1) for i in range(n)]


def close(vals):
    return list(vals) + [vals[-1]]


fig = go.Figure()


def sfx(n):
    return '' if n == 1 else str(n)


def line(x, y, n, color, width, dash=None, shape='linear', **kw):
    fig.add_trace(go.Scatter(x=x, y=y, xaxis='x' + sfx(n), yaxis='y' + sfx(n), mode='lines',
                             line=dict(color=color, width=width, dash=dash, shape=shape),
                             hoverinfo='skip', showlegend=False, **kw))


def band(x, lo, up, n):
    line(x, lo, n, GREY, 0, shape='hv')
    line(x, up, n, GREY, 0, shape='hv', fill='tonexty', fillcolor=GREY)


def guides(n, sig, span):
    for v in (sig, -sig):
        line(span, [v, v], n, 'black', 4, DASHED)
    line([0, 0], [-1, 1], n, 'black', 1.5, DASHDOT)


MAIN_SPAN = [-45, 45]
IN_SPAN = [-5, 7]
MAIN_W = 4.2
IN_W = 3.5
DOT_W = 4.5

# ---- panel 1 ----
band(ENV_LAG, P1_ENV_LO, P1_ENV_UP, 1)
line(P1_DOT_LAG, P1_DOT_UP, 1, 'black', DOT_W, DOTTED)
line(P1_DOT_LAG, P1_DOT_LO, 1, 'black', DOT_W, DOTTED)
guides(1, P1_SIG, MAIN_SPAN)
line(P1_LAG, P1_VAL, 1, PURPLE, MAIN_W, shape='hv')

band(INSET_EDGES, close(P1_IN_CORE_LO), close(P1_IN_CORE_UP), 2)
for arr in (P1_IN_UP1, P1_IN_UP2, P1_IN_UP3, P1_IN_LO1, P1_IN_LO2, P1_IN_LO3):
    line(INSET_EDGES, close(arr), 2, GREY_LINE, 2, shape='hv')
line(P1_IN_DOT_UP_LAG, P1_IN_DOT_UP, 2, 'black', DOT_W, DOTTED)
line(P1_IN_DOT_LO_LAG, P1_IN_DOT_LO, 2, 'black', DOT_W, DOTTED)
guides(2, P1_SIG, IN_SPAN)
line(P1_IN_LAG, P1_IN_VAL, 2, PURPLE, IN_W, shape='hv')

# ---- panel 2 (main and inset share the coarse bins) ----
for n in (3, 4):
    band(P2_EDGES, close(P2_CORE_LO), close(P2_CORE_UP), n)
    for arr in (P2_UP1, P2_UP2, P2_UP3, P2_UP4, P2_LO1, P2_LO2, P2_LO3, P2_LO4):
        line(P2_EDGES, close(arr), n, GREY_LINE, 2, shape='hv')
    line(P2_DOT_UP_LAG, P2_DOT_UP, n, 'black', DOT_W, DOTTED)
    line(P2_DOT_LO_LAG, P2_DOT_LO, n, 'black', DOT_W, DOTTED)
    guides(n, P2_SIG, MAIN_SPAN if n == 3 else IN_SPAN)
    line(P2_EDGES, close(P2_VAL), n, BLUE, MAIN_W, shape='hv')

# ---- panels 3 and 4 ----
for (m, env_lo, env_up, dot_up, dot_lo, sig, vals, color,
     core_lo, core_up, outl, in_dot_up, in_dot_lo, in_lag, in_val) in (
        (5, P3_ENV_LO, P3_ENV_UP, P3_DOT_UP, P3_DOT_LO, P3_SIG, P3_VAL, GREEN,
         P3_IN_CORE_LO, P3_IN_CORE_UP, (P3_IN_UP1, P3_IN_UP2, P3_IN_LO1, P3_IN_LO2),
         P3_IN_DOT_UP, P3_IN_DOT_LO, P3_IN_LAG, P3_IN_VAL),
        (7, P4_ENV_LO, P4_ENV_UP, P4_DOT_UP, P4_DOT_LO, P4_SIG, P4_VAL, RED,
         P4_IN_CORE_LO, P4_IN_CORE_UP, (P4_IN_UP1, P4_IN_UP2, P4_IN_LO1, P4_IN_LO2),
         P4_IN_DOT_UP, P4_IN_DOT_LO, P4_IN_LAG, P4_IN_VAL)):
    band(ENV_LAG, env_lo, env_up, m)
    line(DOT_LAG, dot_up, m, 'black', DOT_W, DOTTED)
    line(DOT_LAG, dot_lo, m, 'black', DOT_W, DOTTED)
    guides(m, sig, MAIN_SPAN)
    line(spread(vals), vals, m, color, MAIN_W, shape='hv')

    k = m + 1
    band(INSET_EDGES, close(core_lo), close(core_up), k)
    for arr in outl:
        line(INSET_EDGES, close(arr), k, GREY_LINE, 2, shape='hv')
    line(IN_DOT_LAG, in_dot_up, k, 'black', DOT_W, DOTTED)
    line(IN_DOT_LAG, in_dot_lo, k, 'black', DOT_W, DOTTED)
    guides(k, sig, IN_SPAN)
    line(in_lag, in_val, k, color, IN_W, shape='hv')

# ---------------- layout ----------------
TICK_FONT = dict(family='Liberation Sans, Arial, sans-serif', size=31, color='black')
X_MAIN_PX = (180, 904)
X_IN_PX = (904, 1214.5)
PANELS = [
    dict(top=35.7, bot=476.0, yr=[-0.0819, 0.0761], tv=Y1_TICKS, tt=Y1_TEXT, ymin=0.01, xlab=True),
    dict(top=623.3, bot=1061.7, yr=[-0.0334, 0.0333], tv=Y2_TICKS, tt=Y2_TEXT, ymin=0.002, xlab=False),
    dict(top=1075.0, bot=1541.0, yr=[-0.0334, 0.0335], tv=Y2_TICKS, tt=Y2_TEXT, ymin=0.002, xlab=False),
    dict(top=1554.5, bot=1993.5, yr=[-0.0335, 0.0334], tv=Y2_TICKS, tt=Y2_TEXT, ymin=0.002, xlab=True),
]


def common(lw, major_len):
    return dict(ticks='inside', ticklen=major_len, tickwidth=2, tickcolor='black',
                showline=True, linecolor='black', linewidth=lw, mirror='allticks',
                zeroline=False, tickfont=TICK_FONT, tickmode='array')


layout = dict(width=W, height=H, autosize=False, margin=dict(l=0, r=0, t=0, b=0),
              paper_bgcolor='white', plot_bgcolor='white', showlegend=False)
shapes = []
annotations = []

for p, spec in enumerate(PANELS):
    m, k = 2 * p + 1, 2 * p + 2
    ydom = [1 - spec['bot'] / H, 1 - spec['top'] / H]
    ax = common(2.5, 14)
    ax.update(domain=[X_MAIN_PX[0] / W, X_MAIN_PX[1] / W], range=[-39.75, 39.75],
              anchor='y' + sfx(m), tickvals=X_MAIN_TICKS, ticktext=X_MAIN_TEXT,
              showticklabels=spec['xlab'], showgrid=False, ticklabelstandoff=23,
              minor=dict(tickmode='linear', tick0=0, dtick=1, ticks='inside', ticklen=6,
                         tickwidth=1.2, tickcolor='black'))
    layout['xaxis' + sfx(m)] = ax
    ay = common(2.5, 14)
    ay.update(domain=ydom, range=spec['yr'], anchor='x' + sfx(m), tickvals=spec['tv'],
              ticktext=spec['tt'], showgrid=True, gridcolor=GRID, griddash='dot', gridwidth=1,
              ticklabelstandoff=35,
              minor=dict(tickmode='linear', tick0=0, dtick=spec['ymin'], ticks='inside', ticklen=7,
                         tickwidth=1.2, tickcolor='black'))
    layout['yaxis' + sfx(m)] = ay

    bx = common(4, 11)
    bx.update(domain=[X_IN_PX[0] / W, X_IN_PX[1] / W], range=[-4.4, 6.4],
              anchor='y' + sfx(k), tickvals=X_INSET_TICKS, ticktext=X_INSET_TEXT,
              showticklabels=spec['xlab'], showgrid=True, gridcolor=GRID, griddash='dot',
              gridwidth=1, ticklabelstandoff=23,
              minor=dict(tickmode='linear', tick0=0, dtick=0.2, ticks='inside', ticklen=5,
                         tickwidth=1, tickcolor='black'))
    layout['xaxis' + sfx(k)] = bx
    by = common(4, 12)
    by.update(domain=ydom, range=spec['yr'], anchor='x' + sfx(k), tickvals=spec['tv'],
              ticktext=spec['tt'], showticklabels=False, showgrid=True, gridcolor=GRID,
              griddash='dot', gridwidth=1,
              minor=dict(tickmode='linear', tick0=0, dtick=spec['ymin'], ticks='inside', ticklen=6,
                         tickwidth=1.2, tickcolor='black'))
    layout['yaxis' + sfx(k)] = by

    for gx in (-20, 20):
        shapes.append(dict(type='line', xref='x' + sfx(m), yref='y' + sfx(m) + ' domain',
                           x0=gx, x1=gx, y0=0, y1=1, layer='below',
                           line=dict(color=GRID, width=1, dash='dot')))

# panel captions (italic)
CAP_PX = [((562, 405), (596, 437)), ((523, 995), (662, 1028)),
          ((523, 1471), (663, 1504)), ((523, 1927), (663, 1955))]
CAP_FONT = dict(family='DejaVu Sans, sans-serif', size=28, color='black', style='italic')
for p in range(4):
    (x1, y1), (x2, y2) = CAP_PX[p]
    annotations.append(dict(text=LABEL_TOP[p], x=x1 / W, y=1 - y1 / H, xref='paper', yref='paper',
                            showarrow=False, xanchor='center', yanchor='middle', font=CAP_FONT))
    annotations.append(dict(text=LABEL_BOT[p], x=x2 / W, y=1 - y2 / H, xref='paper', yref='paper',
                            showarrow=False, xanchor='center', yanchor='middle', font=CAP_FONT))

TITLE_FONT = dict(family='Liberation Sans, Arial, sans-serif', size=31, color='black')
for yc in (574, 2101):
    annotations.append(dict(text='Lag (s)', x=542 / W, y=1 - yc / H, xref='paper', yref='paper',
                            showarrow=False, xanchor='center', yanchor='middle', font=TITLE_FONT))
for yc in (256, 1308):
    annotations.append(dict(text='Discrete Correlation Function', x=28 / W, y=1 - yc / H,
                            xref='paper', yref='paper', showarrow=False, textangle=-90,
                            xanchor='center', yanchor='middle', font=TITLE_FONT))

layout['shapes'] = shapes
layout['annotations'] = annotations
fig.update_layout(**layout)

fig.write_html('out.html')
